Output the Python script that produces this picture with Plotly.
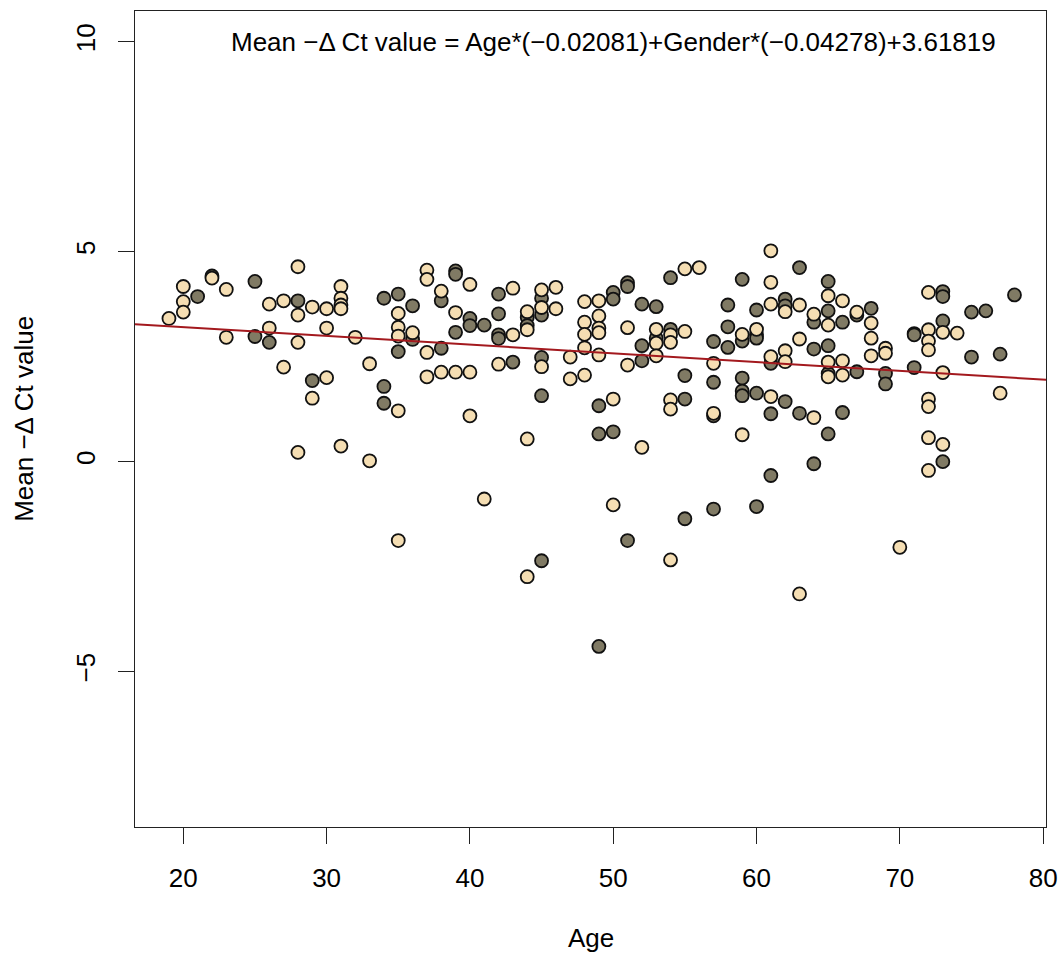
import plotly.graph_objects as go

# ---- data ----
age_light = [19, 20, 20, 20, 22, 23, 23, 26, 26, 27, 27, 28, 28, 28, 28, 29, 29, 30, 30, 30,
             31, 31, 31, 31, 31, 32, 33, 33, 35, 35, 35, 35, 35, 36, 37, 37, 37, 37, 38, 38,
             39, 39, 40, 40, 40, 41, 42, 43, 43, 44, 44, 44, 44, 45, 45, 45, 46, 46, 47, 47,
             48, 48, 48, 48, 48, 49, 49, 49, 49, 49, 50, 50, 51, 51, 52, 53, 53, 53, 54, 54,
             54, 54, 54, 55, 55, 56, 57, 57, 59, 59, 60, 61, 61, 61, 61, 61, 62, 62, 62, 63,
             63, 63, 64, 64, 65, 65, 65, 65, 66, 66, 66, 67, 68, 68, 68, 69, 69, 70, 72, 72,
             72, 72, 72, 72, 72, 72, 73, 73, 73, 74, 77]
val_light = [3.41, 4.17, 3.81, 3.56, 4.37, 4.10, 2.96, 3.75, 3.18, 3.83, 2.25, 4.64, 3.49, 2.84, 0.22, 3.68, 1.51, 3.64, 3.18, 2.00,
             4.17, 3.89, 3.73, 3.64, 0.37, 2.96, 2.33, 0.02, 3.53, 3.20, 2.99, 1.21, -1.88, 3.07, 4.56, 4.34, 2.60, 2.02, 4.06, 2.13,
             3.55, 2.13, 4.22, 2.13, 1.09, -0.89, 2.32, 4.13, 3.02, 3.57, 3.14, 0.54, -2.74, 4.09, 3.67, 2.26, 4.15, 3.64, 2.49, 1.97,
             3.81, 3.32, 3.03, 2.71, 2.06, 3.83, 3.47, 3.18, 3.07, 2.54, 1.49, -1.03, 3.19, 2.30, 0.34, 3.15, 2.82, 2.52, 3.02, 2.84,
             1.47, 1.25, -2.34, 4.59, 3.10, 4.62, 2.34, 1.15, 3.03, 0.64, 3.15, 5.02, 4.27, 3.75, 2.50, 1.55, 3.57, 2.64, 2.38, 3.73,
             2.92, -3.15, 3.51, 1.05, 3.95, 3.25, 2.37, 2.02, 3.83, 2.40, 2.06, 3.56, 3.30, 2.94, 2.52, 2.70, 2.58, -2.04, 4.03, 3.14,
             2.87, 2.66, 1.49, 1.31, 0.57, -0.21, 3.08, 2.12, 0.41, 3.06, 1.63]

age_dark = [21, 22, 25, 25, 26, 28, 29, 34, 34, 34, 35, 35, 36, 36, 38, 38, 39, 39, 39, 40,
            40, 41, 42, 42, 42, 42, 43, 44, 44, 45, 45, 45, 45, 45, 49, 49, 49, 50, 50, 50,
            51, 51, 51, 52, 52, 52, 53, 53, 54, 54, 55, 55, 55, 57, 57, 57, 57, 58, 58, 58,
            59, 59, 59, 59, 59, 60, 60, 60, 60, 60, 61, 61, 61, 62, 62, 62, 63, 63, 64, 64,
            64, 65, 65, 65, 65, 65, 66, 66, 67, 67, 68, 69, 69, 71, 71, 71, 73, 73, 73, 73,
            75, 75, 76, 77, 78]
val_dark = [3.93, 4.42, 4.29, 2.98, 2.84, 3.83, 1.93, 3.89, 1.79, 1.39, 3.99, 2.62, 3.71, 2.91, 3.83, 2.70, 4.54, 4.46, 3.08, 3.41,
            3.24, 3.25, 3.99, 3.52, 3.02, 2.93, 2.37, 3.43, 3.24, 3.89, 3.49, 2.48, 1.57, -2.36, 1.33, 0.66, -4.40, 4.03, 3.87, 0.71,
            4.26, 4.17, -1.88, 3.75, 2.76, 2.40, 3.69, 2.94, 4.38, 3.15, 2.05, 1.49, -1.36, 2.86, 1.89, 1.09, -1.13, 3.73, 3.21, 2.72,
            4.34, 2.87, 1.99, 1.68, 1.57, 3.61, 3.02, 2.94, 1.63, -1.07, 2.34, 1.14, -0.33, 3.87, 3.71, 1.43, 4.62, 1.15, 3.32, 2.68,
            -0.05, 4.29, 3.59, 2.76, 2.10, 0.66, 3.32, 1.17, 3.49, 2.14, 3.65, 2.10, 1.85, 3.05, 3.02, 2.24, 4.05, 3.93, 3.35, 0.00,
            3.56, 2.49, 3.59, 2.56, 3.97]

coef_age = -0.02081
coef_gender = -0.04278
intercept = 3.61819
equation_text = "Mean \u2212\u0394 Ct value = Age*(\u22120.02081)+Gender*(\u22120.04278)+3.61819"

x_range = [16.63, 80.2]
y_range = [-8.70, 10.73]
x_ticks = [20, 30, 40, 50, 60, 70, 80]
y_ticks = [-5, 0, 5, 10]
y_tick_text = ["\u22125", "0", "5", "10"]

FONT = "Liberation Sans, Arial, Helvetica, sans-serif"
LIGHT = "#F5DEB3"
DARK = "#807A64"

fig = go.Figure()

marker_common = dict(size=13, line=dict(color="#111111", width=1.8))
fig.add_trace(go.Scatter(x=age_dark, y=val_dark, mode="markers",
                         marker=dict(color=DARK, **marker_common), showlegend=False))
fig.add_trace(go.Scatter(x=age_light, y=val_light, mode="markers",
                         marker=dict(color=LIGHT, **marker_common), showlegend=False))

# regression line (gender = 0) across the full x range, like abline()
line_x = x_range
line_y = [intercept + coef_age * xv for xv in line_x]
fig.add_trace(go.Scatter(x=line_x, y=line_y, mode="lines",
                         line=dict(color="#A3191E", width=2), showlegend=False))

fig.add_annotation(x=50, y=10, xref="x", yref="y", text=equation_text, showarrow=False,
                   xanchor="center", yanchor="middle",
                   font=dict(family=FONT, size=26, color="black"))
fig.add_annotation(x=-0.122, y=0.5, xref="paper", yref="paper", text="Mean \u2212\u0394 Ct value",
                   textangle=-90, showarrow=False, xanchor="center", yanchor="middle",
                   font=dict(family=FONT, size=26, color="black"))
fig.add_annotation(x=0.5, y=-0.136, xref="paper", yref="paper", text="Age",
                   showarrow=False, xanchor="center", yanchor="middle",
                   font=dict(family=FONT, size=26, color="black"))

axis_common = dict(showline=True, mirror=True, linecolor="#222222", linewidth=1.4,
                   ticks="outside", ticklen=16, tickwidth=1.4, tickcolor="#222222",
                   showgrid=False, zeroline=False, automargin=False,
                   tickfont=dict(family=FONT, size=26, color="black"))

fig.update_layout(
    width=1059, height=956,
    autosize=False,
    margin=dict(l=135, r=13, t=11, b=129, autoexpand=False),
    paper_bgcolor="white", plot_bgcolor="white",
    xaxis=dict(range=x_range, tickvals=x_ticks, ticklabelstandoff=12, **axis_common),
    yaxis=dict(range=y_range, tickvals=y_ticks, ticktext=y_tick_text, tickangle=-90,
               ticklabelstandoff=12, **axis_common),
)

# remove the browser's default 8px body margin so the figure fills the window exactly
fig.write_html(
    "out.html",
    config={"displayModeBar": False, "responsive": False},
    default_width="1059px",
    default_height="956px",
    post_script="document.body.style.margin='0';document.documentElement.style.overflow='hidden';",
)
